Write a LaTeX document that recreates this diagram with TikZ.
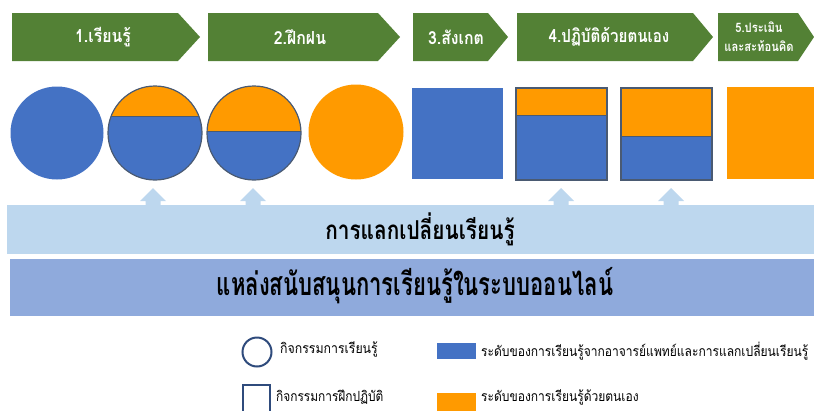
\documentclass[tikz,border=0pt]{standalone}
\usepackage{fontspec}
\usepackage{graphicx}
\setmainfont[Script=Thai]{Loma}
\definecolor{gr}{HTML}{538135}
\definecolor{bl}{HTML}{4472C4}
\definecolor{orn}{HTML}{FF9A00}
\definecolor{lband}{HTML}{BDD7EE}
\definecolor{dband}{HTML}{8FAADC}
\definecolor{edgec}{HTML}{4A5A72}
\definecolor{lgd}{HTML}{2F4B7C}
\newcommand\narrow[2]{\scalebox{#1}[1]{#2}}
\tikzset{
  chevfill/.style={fill=gr},
  chevtext/.style={text=white,font=\bfseries\fontsize{18}{20}\selectfont,inner sep=0pt,align=center},
  outl/.style={draw=edgec,line width=1.2pt},
  uparrow/.style={fill=lband},
  bandtext/.style={inner sep=0pt,text=black},
  lgdtext/.style={anchor=west,inner sep=0pt,font=\fontsize{14}{16}\selectfont},
  lgdline/.style={draw=lgd,line width=2pt}
}
\begin{document}
\begin{tikzpicture}[x=1pt,y=-1pt]
\useasboundingbox (0,0) rectangle (814,410);
\clip (0,0) rectangle (814,410);
% chevrons
\fill[chevfill] (12,13) -- (178,13) -- (200,37) -- (178,61) -- (12,61) -- cycle;
\fill[chevfill] (208,13) -- (378,13) -- (400,37) -- (378,61) -- (208,61) -- cycle;
\fill[chevfill] (413,13) -- (488,13) -- (508,37) -- (488,61) -- (413,61) -- cycle;
\fill[chevfill] (517,13) -- (693,13) -- (713,37) -- (693,61) -- (517,61) -- cycle;
\fill[chevfill] (718,13) -- (798,13) -- (814,37) -- (798,61) -- (718,61) -- cycle;
\node[chevtext] (t1) at (103,37) {\narrow{0.88}{1.เรียนรู้}};
\node[chevtext] (t2) at (300,37) {\narrow{0.88}{2.ฝึกฝน}};
\node[chevtext] (t3) at (456,37) {\narrow{0.88}{3.สังเกต}};
\node[chevtext] (t4) at (609,37) {\narrow{0.84}{4.ปฏิบัติด้วยตนเอง}};
\node[chevtext,font=\bfseries\fontsize{13}{19}\selectfont] (t5) at (759,37) {\narrow{0.86}{5.ประเมิน}\\\narrow{0.86}{และสะท้อนคิด}};
% circles
\fill[bl] (57,133) circle (46.5);
\begin{scope}
\clip (155,133) circle (47);
\fill[bl] (107,85) rectangle (203,181);
\fill[orn] (107,85) rectangle (203,116);
\draw[edgec,line width=1pt] (107,116) -- (203,116);
\end{scope}
\draw[outl] (155,133) circle (47);
\begin{scope}
\clip (254,133) circle (47);
\fill[bl] (206,85) rectangle (302,181);
\fill[orn] (206,85) rectangle (302,131);
\draw[edgec,line width=1pt] (206,131) -- (302,131);
\end{scope}
\draw[outl] (254,133) circle (47);
\fill[orn] (356,132) circle (47.5);
% squares
\fill[bl] (412,88) rectangle (503,179);
\fill[bl] (516,88) rectangle (607,180);
\fill[orn] (516,88) rectangle (607,115);
\draw[edgec,line width=1pt] (516,115) -- (607,115);
\draw[outl] (516,88) rectangle (607,180);
\fill[bl] (621,88) rectangle (712,180);
\fill[orn] (621,88) rectangle (712,136);
\draw[edgec,line width=1pt] (621,136) -- (712,136);
\draw[outl] (621,88) rectangle (712,180);
\fill[orn] (727,87) rectangle (814,179);
% up arrows
\foreach \cx in {153,253,561,671}{
  \fill[uparrow] (\cx,188) -- (\cx+13,201) -- (\cx+7.5,201) -- (\cx+7.5,206) -- (\cx-7.5,206) -- (\cx-7.5,201) -- (\cx-13,201) -- cycle;
}
% bands
\fill[lband] (7,205) rectangle (814,254);
\fill[dband] (10,259) rectangle (814,316);
\node[bandtext,font=\bfseries\fontsize{26}{30}\selectfont] (b1) at (420,229) {\narrow{0.8}{การแลกเปลี่ยนเรียนรู้}};
\node[bandtext,font=\bfseries\fontsize{32}{36}\selectfont] (b2) at (415,286) {\narrow{0.69}{แหล่งสนับสนุนการเรียนรู้ในระบบออนไลน์}};
% legend
\draw[lgdline] (257,352) circle (14.5);
\node[lgdtext] (l1) at (280,349) {\narrow{0.88}{กิจกรรมการเรียนรู้}};
\draw[lgdline] (243,385) rectangle (270,414);
\node[lgdtext] (l2) at (276,397) {\narrow{0.85}{กิจกรรมการฝึกปฏิบัติ}};
\fill[bl] (437,343) rectangle (476,359);
\node[lgdtext] (l3) at (481,351) {\narrow{0.86}{ระดับของการเรียนรู้จากอาจารย์แพทย์และการแลกเปลี่ยนเรียนรู้}};
\fill[orn] (437,393) rectangle (476,412);
\node[lgdtext] (l4) at (481,397) {\narrow{0.86}{ระดับของการเรียนรู้ด้วยตนเอง}};
\end{tikzpicture}
\end{document}
